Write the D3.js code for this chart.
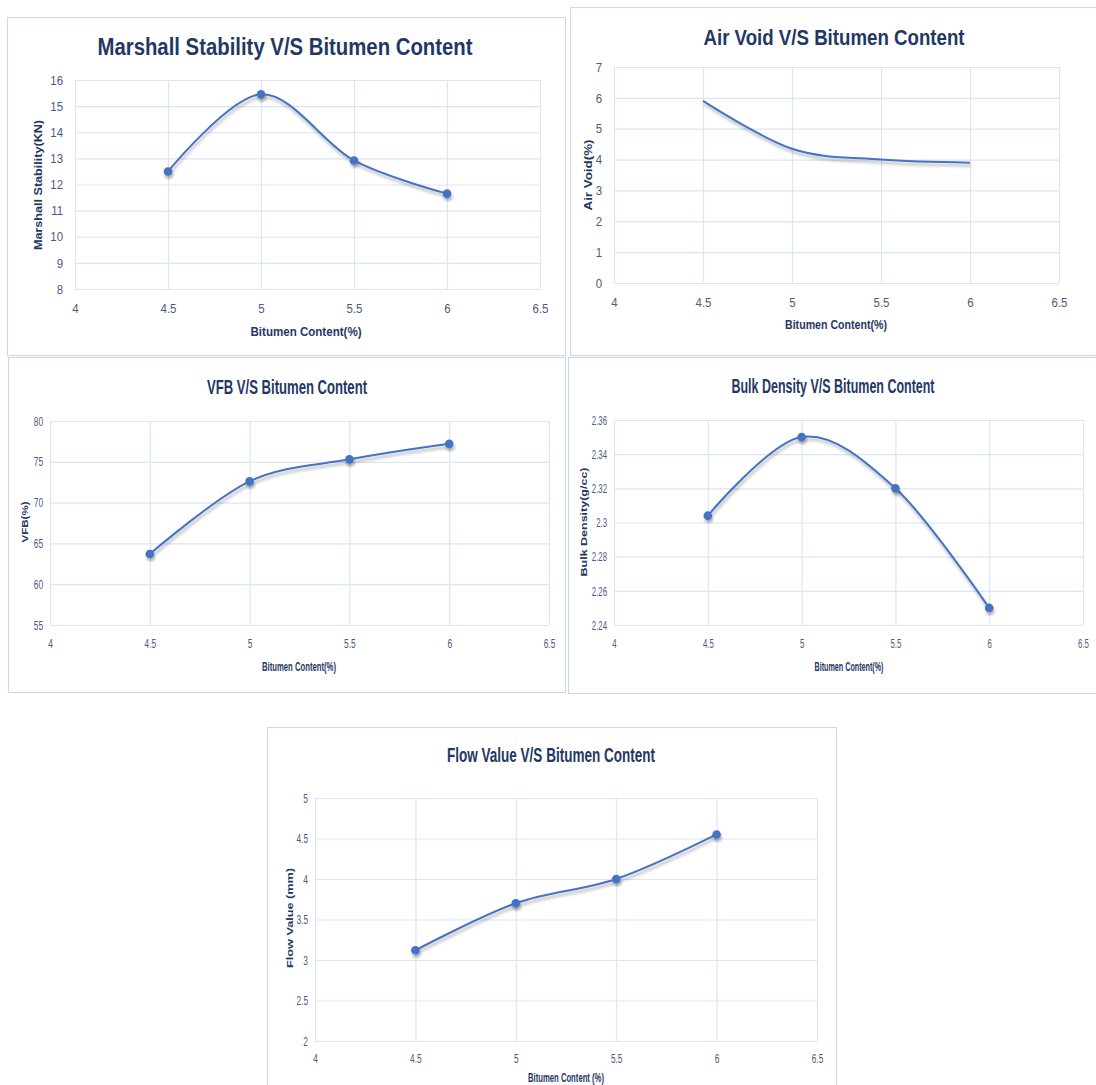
<!DOCTYPE html>
<html><head><meta charset="utf-8">
<script src="https://cdn.jsdelivr.net/npm/d3@7"></script>
<style>body{margin:0;background:#fff}</style>
</head><body><svg id="c" width="1096" height="1085"></svg>
<script>
// ---------- data ----------
const bitumenContent = [4.5, 5, 5.5, 6];
const xTickValues = [4, 4.5, 5, 5.5, 6, 6.5];
const marshallStability = [12.5, 15.45, 12.92, 11.65];
const airVoid = [5.9, 4.35, 4.0, 3.9];
const vfb = [63.7, 72.6, 75.3, 77.2];
const bulkDensity = [2.304, 2.35, 2.32, 2.25];
const flowValue = [3.12, 3.7, 4.0, 4.55];
const marshallTicks = [8, 9, 10, 11, 12, 13, 14, 15, 16];
const airVoidTicks = [0, 1, 2, 3, 4, 5, 6, 7];
const vfbTicks = [55, 60, 65, 70, 75, 80];
const bulkTicks = [2.24, 2.26, 2.28, 2.3, 2.32, 2.34, 2.36];
const flowTicks = [2, 2.5, 3, 3.5, 4, 4.5, 5];
const titles = ["Marshall Stability V/S Bitumen Content", "Air Void V/S Bitumen Content",
  "VFB V/S Bitumen Content", "Bulk Density V/S Bitumen Content", "Flow Value V/S Bitumen Content"];
const yLabels = ["Marshall Stability(KN)", "Air Void(%)", "VFB(%)", "Bulk Density(g/cc)", "Flow Value (mm)"];
const xLabels = ["Bitumen Content(%)", "Bitumen Content(%)", "Bitumen Content(%)", "Bitumen Content(%)", "Bitumen Content (%)"];

// ---------- layout ----------
const charts = [
  {values: marshallStability, ticks: marshallTicks, markers: true, panel: [7, 17, 558, 338],
   plot: [75, 80, 540, 289], title: [285, 55, 375, 23], ylab: [38, 185, 130, 11.5], xlab: [306, 336, 111, 11.5],
   tickFont: 13, squeeze: 0.88, xPad: 15, yPad: 12},
  {values: airVoid, ticks: airVoidTicks, markers: false, panel: [570, 7, 530, 348],
   plot: [614, 67, 1059, 283], title: [834, 45, 261, 22], ylab: [588, 175, 71, 11], xlab: [836, 329, 102, 11],
   tickFont: 13, squeeze: 0.88, xPad: 15, yPad: 12},
  {values: vfb, ticks: vfbTicks, markers: true, panel: [8, 357, 557, 335],
   plot: [50, 421, 549, 625], title: [287, 394, 160, 21], ylab: [25, 522, 41, 9], xlab: [299, 671, 74, 11],
   tickFont: 13, squeeze: 0.64, xPad: 14, yPad: 7},
  {values: bulkDensity, ticks: bulkTicks, markers: true, panel: [568, 357, 530, 336],
   plot: [614, 420, 1083, 625], title: [833, 393, 203, 21], ylab: [584, 522, 109, 8.5], xlab: [849, 671, 69, 11],
   tickFont: 13, squeeze: 0.6, xPad: 14, yPad: 7},
  {values: flowValue, ticks: flowTicks, markers: true, panel: [267, 727, 569, 370],
   plot: [315, 798, 817, 1041], title: [551, 762, 208, 21], ylab: [290, 918, 100, 9.5], xlab: [566, 1082, 76, 11],
   tickFont: 13, squeeze: 0.64, xPad: 13, yPad: 7}
];

const navy = "#1f3864", tickCol = "#4a5b7e", gridCol = "#dbe5f4", lineCol = "#4472c4";
const svg = d3.select("#c");
svg.append("rect").attr("width", 1096).attr("height", 1085).attr("fill", "#fff");
const defs = svg.append("defs");
const f = defs.append("filter").attr("id", "sh").attr("x", "-20%").attr("y", "-20%").attr("width", "140%").attr("height", "160%");
f.append("feDropShadow").attr("dx", 1).attr("dy", 3).attr("stdDeviation", 1.8)
  .attr("flood-color", "#000").attr("flood-opacity", 0.3);

charts.forEach((c, i) => {
  const g = svg.append("g");
  g.append("rect").attr("x", c.panel[0] + 0.5).attr("y", c.panel[1] + 0.5)
    .attr("width", c.panel[2]).attr("height", c.panel[3])
    .attr("fill", "#fff").attr("stroke", "#c8d7ec").attr("stroke-width", 1);
  const [x0, y0, x1, y1] = c.plot;
  const x = d3.scaleLinear().domain([4, 6.5]).range([x0, x1]);
  const y = d3.scaleLinear().domain(d3.extent(c.ticks)).range([y1, y0]);
  const font = "'Liberation Sans',Arial,sans-serif";

  // gridlines
  const gx = g.append("g").attr("transform", `translate(0,${y1})`)
    .call(d3.axisBottom(x).tickValues(xTickValues).tickSize(-(y1 - y0)).tickFormat(""));
  const gy = g.append("g").attr("transform", `translate(${x0},0)`)
    .call(d3.axisLeft(y).tickValues(c.ticks).tickSize(-(x1 - x0)).tickFormat(""));
  [gx, gy].forEach(a => { a.select(".domain").remove(); a.selectAll("line").attr("stroke", gridCol).attr("stroke-width", 1.2); });

  // tick labels (horizontally condensed like the original's narrow font)
  const ax = g.append("g").attr("transform", `translate(0,${y1})`)
    .call(d3.axisBottom(x).tickValues(xTickValues).tickSize(0).tickPadding(c.xPad).tickFormat(d3.format("~g")));
  const ay = g.append("g").attr("transform", `translate(${x0},0)`)
    .call(d3.axisLeft(y).tickValues(c.ticks).tickSize(0).tickPadding(c.yPad).tickFormat(d3.format("~g")));
  [ax, ay].forEach(a => {
    a.select(".domain").remove();
    a.selectAll("text").attr("fill", tickCol).attr("font-size", c.tickFont).attr("font-family", font)
      .attr("transform", `scale(${c.squeeze},1)`);
  });
  ay.selectAll("text").attr("x", -c.yPad / c.squeeze);

  // line
  const pts = bitumenContent.map((b, k) => [x(b), y(c.values[k])]);
  const line = d3.line().curve(d3.curveCardinal.tension(0));
  g.append("path").attr("d", line(pts)).attr("fill", "none").attr("stroke", lineCol)
    .attr("stroke-width", 2).attr("filter", "url(#sh)");
  if (c.markers) {
    g.selectAll("circle.m").data(pts).join("circle").attr("class", "m")
      .attr("cx", d => d[0]).attr("cy", d => d[1]).attr("r", 4.3)
      .attr("fill", lineCol).attr("filter", "url(#sh)");
  }

  // title
  g.append("text").attr("x", c.title[0]).attr("y", c.title[1]).attr("text-anchor", "middle")
    .attr("font-family", font).attr("font-weight", "bold")
    .attr("font-size", c.title[3]).attr("fill", navy)
    .attr("textLength", c.title[2]).attr("lengthAdjust", "spacingAndGlyphs").text(titles[i]);
  // y label
  g.append("text").attr("transform", `translate(${c.ylab[0]},${c.ylab[1]}) rotate(-90)`)
    .attr("text-anchor", "middle").attr("dy", "0.35em")
    .attr("font-family", font).attr("font-weight", "bold")
    .attr("font-size", c.ylab[3]).attr("fill", navy)
    .attr("textLength", c.ylab[2]).attr("lengthAdjust", "spacingAndGlyphs").text(yLabels[i]);
  // x label
  g.append("text").attr("x", c.xlab[0]).attr("y", c.xlab[1]).attr("text-anchor", "middle")
    .attr("font-family", font).attr("font-weight", "bold")
    .attr("font-size", c.xlab[3] + 1.5).attr("fill", navy)
    .attr("textLength", c.xlab[2]).attr("lengthAdjust", "spacingAndGlyphs").text(xLabels[i]);
});
</script>
</body></html>
